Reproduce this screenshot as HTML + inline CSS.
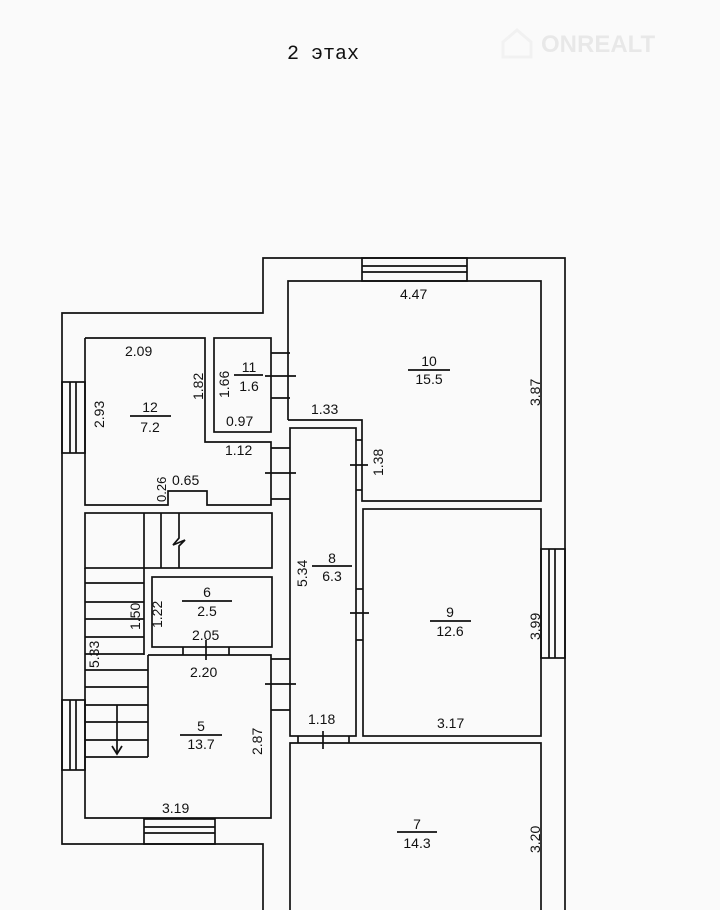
<!DOCTYPE html>
<html><head><meta charset="utf-8"><style>
html,body{margin:0;padding:0;background:#fafafa;}
svg{display:block}
text{font-family:"Liberation Sans",sans-serif;fill:#111;}
</style></head><body>
<svg width="720" height="910" viewBox="0 0 720 910" xmlns="http://www.w3.org/2000/svg">
<rect width="720" height="910" fill="#fafafa"/>
<text x="287" y="59" font-size="20" font-family="Liberation Mono" style="font-family:'Liberation Mono','DejaVu Sans Mono',monospace" fill="#222">2 этах</text>
<g opacity="0.07" fill="#999">
<path d="M503 42 L517 30 L531 42 L531 57 L503 57 Z" fill="none" stroke="#888" stroke-width="3"/>
<text x="541" y="52" font-size="24" font-weight="bold" fill="#888">ONREALT</text>
</g>
<g fill="none" stroke="#111" stroke-width="1.7">
<polyline points="263,910 263,844 62,844 62,313 263,313 263,258 565,258 565,910"/>
<polyline points="85,338 205,338 205,442 271,442 271,505 207,505 207,491 168,491 168,505 85,505 85,338"/>
<rect x="214" y="338" width="57" height="94"/>
<polyline points="288,420 288,281 541,281 541,501 362,501 362,420 288,420"/>
<rect x="290" y="428" width="66" height="308"/>
<rect x="363" y="509" width="178" height="227"/>
<polyline points="290,910 290,743 541,743 541,910"/>
<rect x="85" y="513" width="187" height="55"/>
<line x1="144" y1="513" x2="144" y2="655"/>
<line x1="161" y1="513" x2="161" y2="568"/>
<polyline points="179,513 179,538 173,545 185,540 179,546 179,568"/>
<rect x="152" y="577" width="120" height="70"/>
<polyline points="148,655 271,655 271,818 85,818 85,568"/>
<line x1="148" y1="655" x2="148" y2="757"/>
<line x1="85" y1="583" x2="144" y2="583"/>
<line x1="85" y1="602" x2="144" y2="602"/>
<line x1="85" y1="619" x2="144" y2="619"/>
<line x1="85" y1="637" x2="144" y2="637"/>
<line x1="85" y1="654" x2="144" y2="654"/>
<line x1="85" y1="670" x2="148" y2="670"/>
<line x1="85" y1="687" x2="148" y2="687"/>
<line x1="85" y1="705" x2="148" y2="705"/>
<line x1="85" y1="722" x2="148" y2="722"/>
<line x1="85" y1="740" x2="148" y2="740"/>
<line x1="85" y1="757" x2="148" y2="757"/>
<line x1="117" y1="705" x2="117" y2="754"/>
<polyline points="112,746 117,754 122,746"/>
<rect x="362" y="258" width="105" height="23"/>
<line x1="362" y1="266" x2="467" y2="266"/><line x1="362" y1="272" x2="467" y2="272"/>
<rect x="541" y="549" width="24" height="109"/>
<line x1="549" y1="549" x2="549" y2="658"/><line x1="555" y1="549" x2="555" y2="658"/>
<rect x="62" y="382" width="23" height="71"/>
<line x1="70" y1="382" x2="70" y2="453"/><line x1="76" y1="382" x2="76" y2="453"/>
<rect x="62" y="700" width="23" height="70"/>
<line x1="70" y1="700" x2="70" y2="770"/><line x1="76" y1="700" x2="76" y2="770"/>
<rect x="144" y="819" width="71" height="25"/>
<line x1="144" y1="827" x2="215" y2="827"/><line x1="144" y1="833" x2="215" y2="833"/>
<line x1="271" y1="353" x2="290" y2="353"/><line x1="271" y1="398" x2="290" y2="398"/>
<line x1="265" y1="376" x2="296" y2="376"/>
<line x1="271" y1="448" x2="290" y2="448"/><line x1="271" y1="499" x2="290" y2="499"/>
<line x1="265" y1="473" x2="296" y2="473"/>
<line x1="271" y1="659" x2="290" y2="659"/><line x1="271" y1="710" x2="290" y2="710"/>
<line x1="265" y1="684" x2="296" y2="684"/>
<line x1="356" y1="440" x2="362" y2="440"/><line x1="356" y1="490" x2="362" y2="490"/>
<line x1="350" y1="465" x2="368" y2="465"/>
<line x1="356" y1="589" x2="363" y2="589"/><line x1="356" y1="640" x2="363" y2="640"/>
<line x1="350" y1="613" x2="369" y2="613"/>
<line x1="298" y1="736" x2="298" y2="743"/><line x1="349" y1="736" x2="349" y2="743"/>
<line x1="323" y1="731" x2="323" y2="749"/>
<line x1="183" y1="647" x2="183" y2="655"/><line x1="229" y1="647" x2="229" y2="655"/>
<line x1="206" y1="640" x2="206" y2="660"/>
<line x1="130" y1="416" x2="171" y2="416"/>
<line x1="234" y1="375" x2="263" y2="375"/>
<line x1="408" y1="370" x2="450" y2="370"/>
<line x1="312" y1="566" x2="352" y2="566"/>
<line x1="430" y1="621" x2="471" y2="621"/>
<line x1="182" y1="601" x2="232" y2="601"/>
<line x1="180" y1="735" x2="222" y2="735"/>
<line x1="397" y1="832" x2="437" y2="832"/>
</g>
<g font-size="14">
<text x="125" y="356">2.09</text>
<text x="150" y="412" text-anchor="middle">12</text><text x="150" y="432" text-anchor="middle">7.2</text>
<text x="249" y="372" text-anchor="middle">11</text><text x="249" y="391" text-anchor="middle">1.6</text>
<text x="226" y="426">0.97</text>
<text x="225" y="455">1.12</text>
<text x="172" y="485">0.65</text>
<text x="400" y="299">4.47</text>
<text x="429" y="366" text-anchor="middle">10</text><text x="429" y="384" text-anchor="middle">15.5</text>
<text x="311" y="414">1.33</text>
<text x="332" y="563" text-anchor="middle">8</text><text x="332" y="581" text-anchor="middle">6.3</text>
<text x="450" y="617" text-anchor="middle">9</text><text x="450" y="636" text-anchor="middle">12.6</text>
<text x="437" y="728">3.17</text>
<text x="308" y="724">1.18</text>
<text x="207" y="597" text-anchor="middle">6</text><text x="207" y="616" text-anchor="middle">2.5</text>
<text x="192" y="640">2.05</text>
<text x="190" y="677">2.20</text>
<text x="201" y="731" text-anchor="middle">5</text><text x="201" y="749" text-anchor="middle">13.7</text>
<text x="162" y="813">3.19</text>
<text x="417" y="829" text-anchor="middle">7</text><text x="417" y="848" text-anchor="middle">14.3</text>
<text transform="translate(104,428) rotate(-90)">2.93</text>
<text transform="translate(203,400) rotate(-90)">1.82</text>
<text transform="translate(229,398) rotate(-90)">1.66</text>
<text transform="translate(166,502) rotate(-90)" font-size="13">0.26</text>
<text transform="translate(383,476) rotate(-90)">1.38</text>
<text transform="translate(540,406) rotate(-90)">3.87</text>
<text transform="translate(307,587) rotate(-90)">5.34</text>
<text transform="translate(540,640) rotate(-90)">3.99</text>
<text transform="translate(140,630) rotate(-90)">1.50</text>
<text transform="translate(162,628) rotate(-90)">1.22</text>
<text transform="translate(99,668) rotate(-90)">5.33</text>
<text transform="translate(262,755) rotate(-90)">2.87</text>
<text transform="translate(540,853) rotate(-90)">3.20</text>
</g>
</svg>
</body></html>
